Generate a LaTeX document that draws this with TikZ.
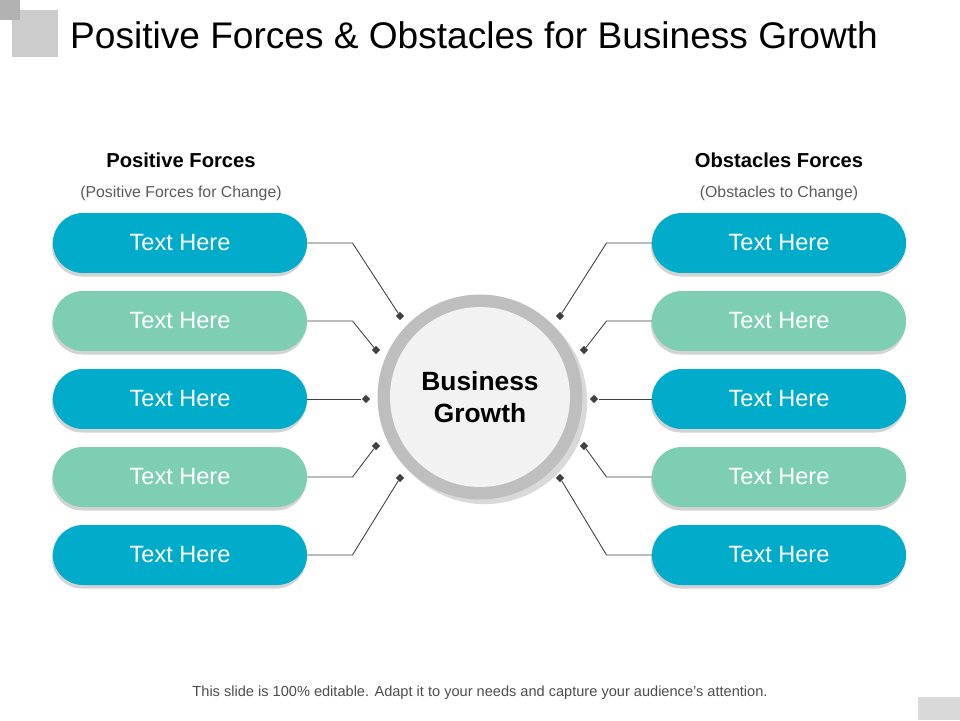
\documentclass[tikz,border=0pt]{standalone}
\usepackage{fontspec}
\setmainfont{Liberation Sans}
\usetikzlibrary{positioning,shapes,shadows,arrows.meta}
\definecolor{teal}{RGB}{0,172,202}
\definecolor{mint}{RGB}{126,206,180}
\definecolor{ringgray}{RGB}{190,190,190}
\begin{document}
\begin{tikzpicture}[x=0.02cm,y=-0.02cm]
	\tikzstyle{pill}=[rounded rectangle, minimum width=5.32cm, minimum height=1.2cm, text=white,
	font=\fontsize{13.4}{15}\selectfont, drop shadow={shadow xshift=-0.5pt,shadow yshift=-2pt,opacity=0.35}]
	\tikzstyle{line}=[-, draw=black!75, line width=0.5pt]
	\tikzstyle{dot}=[diamond, fill=black!75, inner sep=1.2pt]
	\useasboundingbox (0,0) rectangle (960,720);
	\fill[black!20] (12,10) rectangle (58,57);
	\fill[black!30] (0,0) rectangle (20,20);
	\fill[black!15] (918,697) rectangle (960,720);
	\node[anchor=west, font=\fontsize{21.1}{25}\selectfont] (title) at (64,35) {Positive Forces \& Obstacles for Business Growth};
	\node[font=\bfseries\fontsize{11.5}{13}\selectfont] (lhead) at (181,160) {Positive Forces};
	\node[text=black!65, font=\fontsize{9}{11}\selectfont] (lsub) at (181,193) {(Positive Forces for Change)};
	\node[font=\bfseries\fontsize{11.5}{13}\selectfont] (rhead) at (779,160) {Obstacles Forces};
	\node[text=black!65, font=\fontsize{9}{11}\selectfont] (rsub) at (779,193) {(Obstacles to Change)};
	\node[text=black!70, font=\fontsize{8.3}{10}\selectfont] (foot) at (480,693) {This slide is 100\% editable. Adapt it to your needs and capture your audience's attention.};
	% center
	\node[circle, fill=ringgray, minimum size=4.1cm, drop shadow={opacity=0.3}] (ring) at (480,397) {};
	\node[circle, fill=black!5, minimum size=3.6cm, align=center, font=\bfseries\fontsize{15}{18}\selectfont] (center) at (480,397) {Business\\Growth};
	% pills
	\foreach \i/\y/\c in {1/243/teal,2/321/mint,3/399/teal,4/477/mint,5/555/teal}{
		\node[pill, fill=\c] (L\i) at (180,\y) {Text Here};
		\node[pill, fill=\c] (R\i) at (779,\y) {Text Here};
	}
	% dots
	\foreach \i/\x/\y in {1/400/316,2/376/350,3/366/399,4/376/446,5/400/478}{
		\node[dot] (dl\i) at (\x,\y) {};
		\pgfmathsetmacro{\xr}{960-\x}
		\node[dot] (dr\i) at (\xr,\y) {};
	}
	\foreach \i in {1,2,4,5}{
		\draw[line] (L\i.east) -- ++(45,0) -- (dl\i);
		\draw[line] (R\i.west) -- ++(-45,0) -- (dr\i);
	}
	\draw[line] (L3.east) -- (dl3);
	\draw[line] (R3.west) -- (dr3);
\end{tikzpicture}
\end{document}
